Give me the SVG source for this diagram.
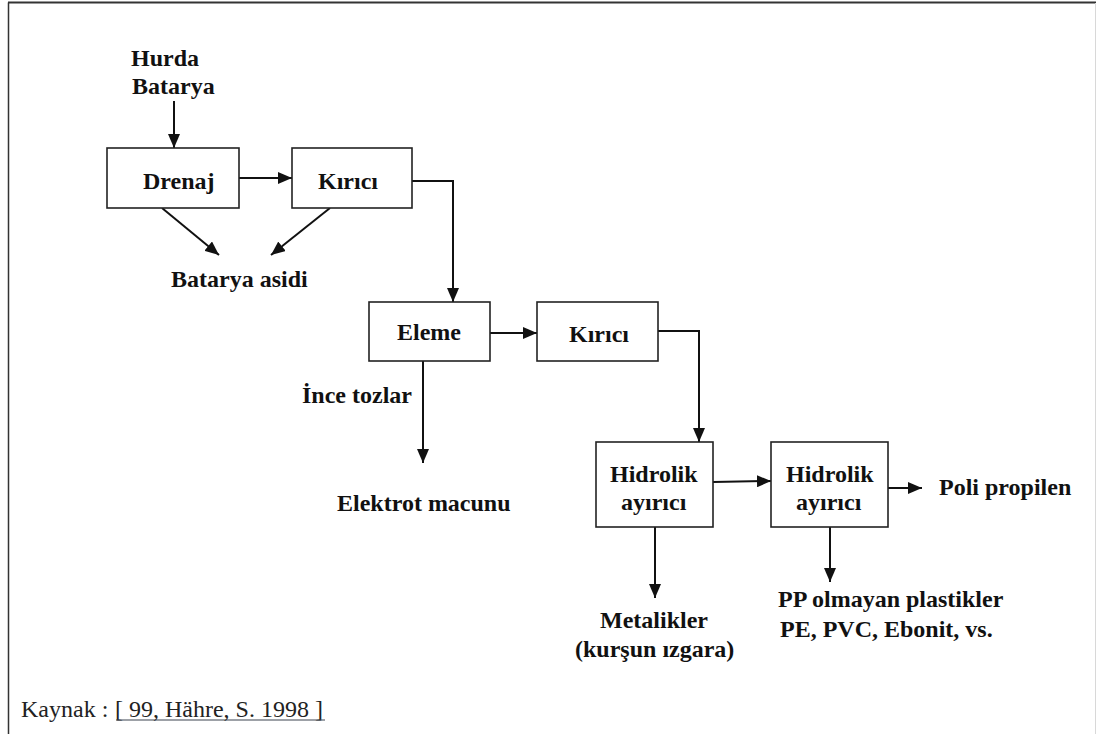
<svg xmlns="http://www.w3.org/2000/svg" width="1096" height="734" viewBox="0 0 1096 734">
  <style>
    .box { fill: #fff; stroke: #222; stroke-width: 1.6; }
    .lbl { font-family: "Liberation Serif", "Times New Roman", serif; font-weight: bold; font-size: 24px; fill: #111; }
    .edge { fill: none; stroke: #111; stroke-width: 2; }
    .src { font-family: "Liberation Serif", "Times New Roman", serif; font-size: 24px; fill: #222; }
  </style>
  <defs>
    <marker id="arr" viewBox="0 0 10 10" refX="10" refY="5" markerWidth="6" markerHeight="6" markerUnits="userSpaceOnUse" orient="auto">
      <path d="M0,0 L10,5 L0,10 Z" fill="#111"/>
    </marker>
    <marker id="arrow" viewBox="0 0 14 12" refX="14" refY="6" markerWidth="14" markerHeight="12" markerUnits="userSpaceOnUse" orient="auto">
      <path d="M0,0 L14,6 L0,12 Z" fill="#111"/>
    </marker>
  </defs>

  <rect width="1096" height="734" fill="#fff"/>
  <!-- frame -->
  <line x1="8.5" y1="2.5" x2="8.5" y2="734" stroke="#333" stroke-width="1.5"/>
  <line x1="8" y1="2.5" x2="1096" y2="2.5" stroke="#333" stroke-width="2"/>
  <line x1="1095.5" y1="3" x2="1095.5" y2="734" stroke="#d8d8d8" stroke-width="1"/>

  <!-- connectors -->
  <g id="connectors">
    <line class="edge" x1="174" y1="101" x2="174" y2="148" marker-end="url(#arrow)"/>
    <line class="edge" x1="239" y1="178" x2="292" y2="178" marker-end="url(#arrow)"/>
    <line class="edge" x1="162" y1="208" x2="219" y2="255" marker-end="url(#arrow)"/>
    <line class="edge" x1="330" y1="208" x2="271" y2="255" marker-end="url(#arrow)"/>
    <polyline class="edge" points="412,181 453,181 453,302" marker-end="url(#arrow)"/>
    <line class="edge" x1="490" y1="333" x2="537" y2="333" marker-end="url(#arrow)"/>
    <line class="edge" x1="423" y1="361" x2="423" y2="463" marker-end="url(#arrow)"/>
    <polyline class="edge" points="658,331 699,331 699,442" marker-end="url(#arrow)"/>
    <line class="edge" x1="713" y1="482" x2="771" y2="481" marker-end="url(#arrow)"/>
    <line class="edge" x1="888" y1="488" x2="922" y2="488" marker-end="url(#arrow)"/>
    <line class="edge" x1="655" y1="527" x2="655" y2="598" marker-end="url(#arrow)"/>
    <line class="edge" x1="830" y1="527" x2="830" y2="582" marker-end="url(#arrow)"/>
  </g>

  <!-- process steps -->
  <g id="drenaj">
    <rect class="box" x="107" y="148" width="132" height="60"/>
    <text class="lbl" x="143" y="189">Drenaj</text>
  </g>
  <g id="kirici1">
    <rect class="box" x="292" y="148" width="120" height="60"/>
    <text class="lbl" x="318" y="189">Kırıcı</text>
  </g>
  <g id="eleme">
    <rect class="box" x="369" y="302" width="121" height="59"/>
    <text class="lbl" x="397" y="340">Eleme</text>
  </g>
  <g id="kirici2">
    <rect class="box" x="537" y="302" width="121" height="59"/>
    <text class="lbl" x="569" y="342">Kırıcı</text>
  </g>
  <g id="hidrolik1">
    <rect class="box" x="596" y="442" width="117" height="85"/>
    <text class="lbl" x="610" y="482">Hidrolik</text>
    <text class="lbl" x="621" y="510">ayırıcı</text>
  </g>
  <g id="hidrolik2">
    <rect class="box" x="771" y="442" width="117" height="85"/>
    <text class="lbl" x="786" y="482">Hidrolik</text>
    <text class="lbl" x="796" y="510">ayırıcı</text>
  </g>

  <!-- inputs and outputs -->
  <g id="hurda-batarya">
    <text class="lbl" x="131" y="66">Hurda</text>
    <text class="lbl" x="132" y="94">Batarya</text>
  </g>
  <g id="batarya-asidi">
    <text class="lbl" x="171" y="287">Batarya asidi</text>
  </g>
  <g id="ince-tozlar">
    <text class="lbl" x="302" y="403">İnce tozlar</text>
  </g>
  <g id="elektrot-macunu">
    <text class="lbl" x="337" y="511">Elektrot macunu</text>
  </g>
  <g id="metalikler">
    <text class="lbl" x="600" y="628">Metalikler</text>
    <text class="lbl" x="575" y="657">(kurşun ızgara)</text>
  </g>
  <g id="pp-olmayan">
    <text class="lbl" x="778" y="607">PP olmayan plastikler</text>
    <text class="lbl" x="780" y="637">PE, PVC, Ebonit, vs.</text>
  </g>
  <g id="poli-propilen">
    <text class="lbl" x="939" y="495">Poli propilen</text>
  </g>

  <!-- source note -->
  <g id="kaynak">
    <text class="src" x="21" y="717">Kaynak : </text>
    <text class="src" x="115" y="717">[ 99, Hähre, S. 1998 ]</text>
    <line x1="116" y1="720" x2="325" y2="720" stroke="#3c4450" stroke-width="1.2"/>
  </g>
</svg>
